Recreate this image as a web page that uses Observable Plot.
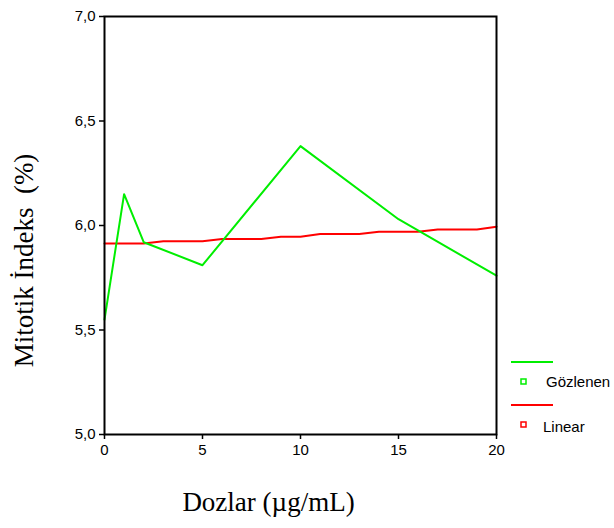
<!DOCTYPE html>
<html>
<head>
<meta charset="utf-8">
<script src="https://cdn.jsdelivr.net/npm/d3@7"></script>
<script src="https://cdn.jsdelivr.net/npm/@observablehq/plot@0.6"></script>
<style>
  html, body { margin: 0; padding: 0; background: #fff; }
  #wrap { position: relative; width: 614px; height: 528px; }
  #legend { position: absolute; left: 0; top: 0; }
</style>
</head>
<body>
<div id="wrap"></div>
<script>
// Observed (Gözlenen) series
const doses = [0, 1, 2, 5, 10, 15, 20];
const observed = [5.55, 6.15, 5.92, 5.81, 6.38, 6.03, 5.76];

// Linear fit series (as drawn, at integer doses)
const linearDoses = [0,1,2,3,4,5,6,7,8,9,10,11,12,13,14,15,16,17,18,19,20];
const linearValues = [5.914,5.914,5.914,5.925,5.925,5.925,5.935,5.935,5.935,5.946,5.946,
                      5.959,5.959,5.959,5.970,5.970,5.970,5.981,5.981,5.981,5.994];

const xTicks = [0, 5, 10, 15, 20];
const yTicks = [5.0, 5.5, 6.0, 6.5, 7.0];
const xLabel = "Dozlar (\u00b5g/mL)";
const yLabel = "Mitotik \u0130ndeks  (%)";

const seriesNames = ["Gözlenen", "Linear"];
const seriesColors = ["#00ee00", "#ff0000"];

const obsData = doses.map((d, i) => ({x: d, y: observed[i]}));
const linData = linearDoses.map((d, i) => ({x: d, y: linearValues[i]}));

const comma = v => d3.format(".1f")(v).replace(".", ",");
const sans = "Liberation Sans, Arial, sans-serif";
const serif = "Liberation Serif, Times New Roman, serif";

const chart = Plot.plot({
  width: 614,
  height: 528,
  marginLeft: 104,
  marginRight: 118,
  marginTop: 16,
  marginBottom: 94,
  style: {fontFamily: sans, fontSize: "15px", color: "#000", background: "#fff"},
  x: {domain: [0, 20], ticks: xTicks},
  y: {domain: [5, 7], ticks: yTicks},
  marks: [
    Plot.axisX({ticks: xTicks, tickSize: 5, tickPadding: 5, label: null, strokeWidth: 1.5, fontSize: 15}),
    Plot.axisY({ticks: yTicks, tickSize: 5, tickPadding: 4, label: null, tickFormat: comma, strokeWidth: 1.5, fontSize: 15}),
    Plot.line(linData, {x: "x", y: "y", stroke: seriesColors[1], strokeWidth: 2}),
    Plot.line(obsData, {x: "x", y: "y", stroke: seriesColors[0], strokeWidth: 2}),
    Plot.frame({stroke: "#000", strokeWidth: 2}),
    Plot.text([yLabel], {frameAnchor: "left", rotate: -90, dx: -80, dy: 35, textAnchor: "middle", lineAnchor: "middle",
      fontFamily: serif, fontSize: 27, fill: "#000"}),
    Plot.text([xLabel], {frameAnchor: "bottom", dx: -32, dy: 68, textAnchor: "middle", lineAnchor: "middle",
      fontFamily: serif, fontSize: 27, fill: "#000"})
  ]
});
document.getElementById("wrap").appendChild(chart);

// Legend overlay
const leg = d3.select("#wrap").append("svg")
  .attr("id", "legend").attr("width", 614).attr("height", 528);
seriesNames.forEach((name, i) => {
  const y0 = 362 + i * 43;
  leg.append("line").attr("x1", 511).attr("x2", 553).attr("y1", y0).attr("y2", y0)
    .attr("stroke", seriesColors[i]).attr("stroke-width", 2);
  leg.append("rect").attr("x", 521).attr("y", y0 + 17).attr("width", 5).attr("height", 5)
    .attr("fill", "none").attr("stroke", seriesColors[i]).attr("stroke-width", 1.5);
  leg.append("text").attr("x", i === 0 ? 546 : 543).attr("y", y0 + 20 + i * 2)
    .attr("dy", "0.35em").attr("font-family", sans).attr("font-size", 15).text(name);
});
</script>
</body>
</html>
